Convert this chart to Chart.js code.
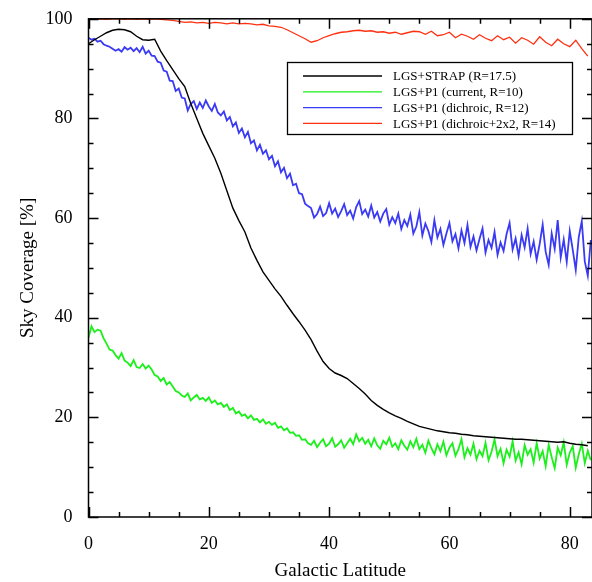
<!DOCTYPE html>
<html>
<head>
<meta charset="utf-8">
<script src="https://cdn.jsdelivr.net/npm/chart.js@4.4.0/dist/chart.umd.min.js"></script>
<style>
  html, body { margin: 0; padding: 0; background: #fff; }
  #c { display: block; }
</style>
</head>
<body>
<canvas id="c" width="592" height="582"></canvas>
<script>
// latitude grids (degrees)
const latStepCoarse = 1;    // black and red curves
const latStepFine = 0.5;    // blue and green curves (noisier)

const seriesLabels = [
    'LGS+STRAP (R=17.5)',
    'LGS+P1 (current, R=10)',
    'LGS+P1 (dichroic, R=12)',
    'LGS+P1 (dichroic+2x2, R=14)'
];

// LGS+STRAP, lat 0..83 step 1
const strapValues = [
    95.0, 95.8, 96.5, 97.2, 97.7, 97.9, 97.8, 97.4, 96.5, 95.8,
    95.7, 95.9, 93.5, 91.6, 89.8, 88.0, 86.4, 83.0, 80.0, 77.0,
    74.5, 72.0, 69.0, 65.5, 62.0, 59.5, 57.2, 54.0, 51.5, 49.2,
    47.5, 45.8, 44.3, 42.5, 40.8, 39.2, 37.5, 35.6, 33.3, 31.2,
    29.8, 28.9, 28.4, 27.8, 26.8, 25.8, 24.7, 23.4, 22.4, 21.6,
    20.9, 20.3, 19.8, 19.2, 18.7, 18.2, 17.9, 17.6, 17.3, 17.1,
    16.9, 16.8, 16.6, 16.5, 16.3, 16.2, 16.1, 16.0, 15.9, 15.8,
    15.7, 15.6, 15.6, 15.5, 15.4, 15.3, 15.2, 15.1, 15.0, 15.1,
    14.8, 14.6, 14.5, 14.3
];

// LGS+P1 current, lat 0..83.5 step 0.5
const currentValues = [
    36.0, 38.3, 37.1, 37.6, 37.4, 35.9, 34.8, 33.6, 33.4, 32.5,
    31.8, 32.9, 31.4, 31.0, 30.3, 31.5, 30.1, 29.9, 30.7, 29.8,
    30.4, 29.6, 28.5, 28.2, 27.3, 27.9, 26.6, 27.1, 26.2, 25.3,
    25.0, 24.4, 24.1, 24.8, 23.4, 24.0, 24.5, 23.6, 23.9, 23.3,
    24.0, 22.9, 23.4, 22.6, 22.9, 22.1, 22.6, 21.5, 21.9, 20.8,
    21.2, 20.3, 20.6, 19.8, 20.4, 19.5, 19.7, 19.0, 19.6, 18.7,
    19.1, 18.5, 18.9, 17.9, 18.2, 17.4, 17.8, 16.9, 17.0, 16.3,
    16.4, 15.5, 15.6, 14.8, 14.5, 15.3, 14.0, 14.9, 15.6, 14.2,
    14.7, 15.8, 14.1, 14.6, 15.4, 13.9, 14.8, 15.7, 14.6, 16.6,
    15.2, 15.9, 14.7, 15.5, 14.2, 15.8, 14.4, 13.7, 15.3, 14.6,
    15.9, 14.1, 14.8, 13.6, 15.4, 14.3, 13.5, 15.2, 14.0, 15.7,
    13.6, 14.5, 12.9, 15.3, 13.8, 12.6, 14.6, 13.2, 15.1, 12.4,
    13.9, 14.8, 12.3, 13.6, 15.6, 12.0, 13.8, 12.5, 14.7, 11.6,
    13.3, 12.2, 14.9, 11.4, 13.1, 15.6, 12.2, 13.7, 10.8, 13.5,
    12.1, 15.2, 11.3, 13.0, 10.6, 14.4, 12.5, 13.6, 10.9, 14.8,
    11.7, 13.2, 10.2, 14.5, 12.0, 9.8, 13.9, 12.4, 15.0, 10.5,
    12.9, 14.2, 9.9, 12.6, 14.7, 10.8, 13.3, 11.4
];

// LGS+P1 dichroic, lat 0..83.5 step 0.5
const dichroicValues = [
    96.2, 95.8, 96.0, 95.4, 95.6, 94.9, 94.6, 94.4, 94.0, 93.6,
    93.9, 93.4, 94.3, 93.8, 94.2, 93.5, 94.1, 93.3, 94.4, 93.0,
    93.6, 92.6, 92.5, 91.4, 91.2, 89.6, 89.4, 87.6, 87.5, 85.5,
    86.0, 84.2, 84.0, 81.6, 82.9, 83.5, 81.9, 83.2, 82.1, 83.6,
    82.4, 81.5, 82.9, 81.2, 80.6, 81.4, 79.6, 80.3, 78.4, 79.2,
    77.1, 78.0, 76.2, 77.3, 75.0, 75.6, 73.6, 74.7, 72.9, 73.6,
    71.8, 72.5, 70.4, 71.4, 69.2, 70.1, 68.0, 68.9, 66.6, 66.9,
    65.0, 64.8, 62.9, 62.4, 62.0, 60.1, 60.8, 62.3, 60.4, 61.0,
    63.0, 60.9, 61.9, 60.2, 61.4, 62.8, 60.6, 61.5, 59.9, 62.2,
    63.4, 60.8, 61.7, 60.3, 62.5, 60.1, 61.2, 59.3, 60.9, 61.8,
    58.7, 60.2, 59.0, 60.9, 57.8, 59.6, 58.4, 60.7, 56.9, 58.3,
    61.2, 56.5, 58.9, 57.4, 55.2, 59.6, 56.1, 57.8, 54.6, 56.9,
    59.0, 55.3, 56.8, 53.9, 57.5, 55.0, 58.6, 54.2, 56.3, 53.5,
    55.8, 57.9, 53.1, 55.6, 54.0, 57.2, 52.6, 55.1, 53.4, 56.8,
    59.0, 53.7, 55.9, 52.4, 56.6, 54.1, 57.9, 52.8, 55.3, 51.6,
    54.8, 58.7, 53.2, 50.6, 56.9, 53.8, 59.6, 52.1, 55.7, 51.2,
    57.4, 53.6, 49.6, 56.2, 59.4, 51.3, 48.4, 55.6
];

// LGS+P1 dichroic+2x2, lat 0..83 step 1
const dichroic2x2Values = [
    100.0, 99.9, 100.0, 99.9, 100.0, 100.0, 99.9, 100.0, 99.9, 100.0,
    99.9, 100.0, 99.9, 99.8, 99.7, 99.5, 99.3, 99.4, 99.2, 99.3,
    99.1, 99.3, 99.2, 99.0, 99.2, 99.0, 99.1, 99.0, 98.8, 98.9,
    98.6, 98.5, 98.3, 97.8, 97.2, 96.6, 96.0, 95.3, 95.6, 96.2,
    96.6, 97.0, 97.3, 97.4, 97.6, 97.7, 97.5, 97.6, 97.3, 97.4,
    97.1, 97.3, 96.9, 97.2, 97.5, 97.4, 96.9, 97.5, 96.6, 96.8,
    97.3, 96.2, 96.9, 96.5, 95.9, 96.8, 96.1, 95.6, 96.6, 95.8,
    96.3, 95.1, 96.2, 95.7, 94.9, 96.4, 95.3, 94.6, 95.9, 95.0,
    94.4, 95.7, 94.0, 92.5
];

const xTicksMajor = 20, xTicksMinor = 5;
const yTicksMajor = 20, yTicksMinor = 5;

function toPoints(values, step) {
    return values.map((v, i) => ({ x: i * step, y: v }));
}

const fontFamily = '"Liberation Serif", "Times New Roman", serif';

// inward ticks on all four sides plus the frame
const frameTicks = {
    id: 'frameTicks',
    afterDatasetsDraw(chart) {
        const { ctx, chartArea: a, scales: { x, y } } = chart;
        ctx.save();
        ctx.strokeStyle = '#000';
        ctx.lineWidth = 1.5;
        ctx.strokeRect(a.left, a.top, a.right - a.left, a.bottom - a.top);
        ctx.beginPath();
        for (let v = x.min; v <= x.max; v += xTicksMinor) {
            const px = Math.round(x.getPixelForValue(v)) + 0.5;
            const len = v % xTicksMajor === 0 ? 10 : 5;
            ctx.moveTo(px, a.bottom); ctx.lineTo(px, a.bottom - len);
            ctx.moveTo(px, a.top); ctx.lineTo(px, a.top + len);
        }
        for (let v = y.min; v <= y.max; v += yTicksMinor) {
            const py = Math.round(y.getPixelForValue(v)) + 0.5;
            const len = v % yTicksMajor === 0 ? 10 : 5;
            ctx.moveTo(a.left, py); ctx.lineTo(a.left + len, py);
            ctx.moveTo(a.right, py); ctx.lineTo(a.right - len, py);
        }
        ctx.stroke();
        ctx.restore();
    }
};

// boxed legend inside the plot, top right
const boxLegend = {
    id: 'boxLegend',
    afterDraw(chart) {
        const ctx = chart.ctx;
        const box = { left: 287.5, top: 62.5, right: 572.5, bottom: 134.5 };
        ctx.save();
        ctx.fillStyle = '#fff';
        ctx.fillRect(box.left, box.top, box.right - box.left, box.bottom - box.top);
        ctx.strokeStyle = '#000';
        ctx.lineWidth = 1.3;
        ctx.strokeRect(box.left, box.top, box.right - box.left, box.bottom - box.top);
        ctx.font = '13px ' + fontFamily;
        ctx.textBaseline = 'middle';
        ctx.fillStyle = '#000';
        chart.data.datasets.forEach((ds, i) => {
            const rowY = 76 + i * 15.8;
            ctx.strokeStyle = ds.borderColor;
            ctx.lineWidth = 1.3;
            ctx.beginPath();
            ctx.moveTo(303, rowY);
            ctx.lineTo(382, rowY);
            ctx.stroke();
            ctx.fillText(ds.label, 393, rowY + 1);
        });
        ctx.restore();
    }
};

new Chart(document.getElementById('c').getContext('2d'), {
    type: 'line',
    data: {
        datasets: [
            {
                label: seriesLabels[0],
                data: toPoints(strapValues, latStepCoarse),
                borderColor: '#000000',
                borderWidth: 1.4
            },
            {
                label: seriesLabels[1],
                data: toPoints(currentValues, latStepFine),
                borderColor: '#1bf01b',
                borderWidth: 1.8
            },
            {
                label: seriesLabels[2],
                data: toPoints(dichroicValues, latStepFine),
                borderColor: '#3a3af5',
                borderWidth: 1.8
            },
            {
                label: seriesLabels[3],
                data: toPoints(dichroic2x2Values, latStepCoarse),
                borderColor: '#ff3010',
                borderWidth: 1.3
            }
        ]
    },
    options: {
        responsive: false,
        animation: false,
        devicePixelRatio: 1,
        layout: { padding: { top: 13, right: 0, left: 0, bottom: 0 } },
        elements: {
            point: { radius: 0 },
            line: { tension: 0, fill: false }
        },
        plugins: {
            legend: { display: false },
            tooltip: { enabled: false }
        },
        scales: {
            x: {
                type: 'linear',
                min: 0,
                max: 83.7,
                grid: { display: false },
                border: { display: false },
                ticks: {
                    stepSize: xTicksMajor,
                    includeBounds: false,
                    color: '#000',
                    padding: 8,
                    maxRotation: 0,
                    font: { family: fontFamily, size: 18 }
                },
                title: {
                    display: true,
                    text: 'Galactic Latitude',
                    color: '#000',
                    padding: { top: 0, bottom: 0 },
                    font: { family: fontFamily, size: 19 }
                },
                afterFit(scale) { scale.height = 65; }
            },
            y: {
                min: 0,
                max: 100,
                grid: { display: false },
                border: { display: false },
                ticks: {
                    stepSize: yTicksMajor,
                    color: '#000',
                    padding: 8,
                    font: { family: fontFamily, size: 18 }
                },
                title: {
                    display: true,
                    text: 'Sky Coverage [%]',
                    color: '#000',
                    padding: { top: 17, bottom: 0 },
                    font: { family: fontFamily, size: 19 }
                },
                afterFit(scale) { scale.width = 88.5; }
            }
        }
    },
    plugins: [frameTicks, boxLegend]
});
</script>
</body>
</html>
